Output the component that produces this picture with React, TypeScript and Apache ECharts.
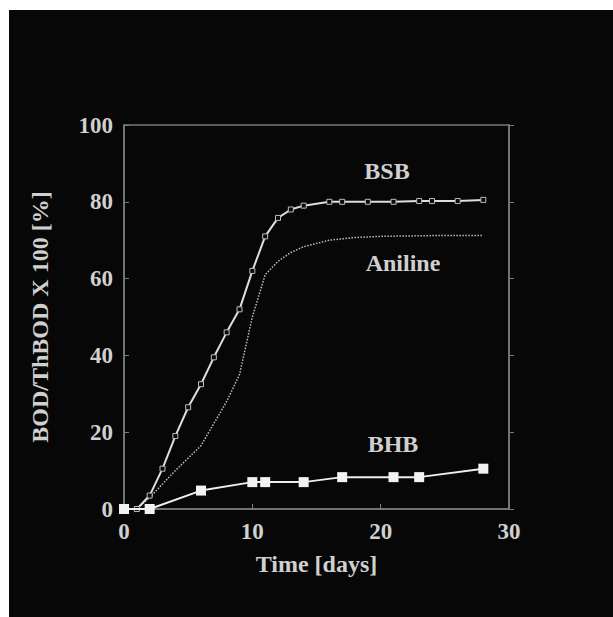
import React, { useEffect, useRef } from "react";
import * as echarts from "echarts";

const bsbDays = [0, 1, 2, 3, 4, 5, 6, 7, 8, 9, 10, 11, 12, 13, 14, 16, 17, 19, 21, 23, 24, 26, 28];
const bsbValues = [0, 0, 3.5, 10.5, 19, 26.5, 32.5, 39.5, 46, 52, 62, 71, 75.8, 78, 79, 80, 80, 80, 80, 80.2, 80.2, 80.2, 80.5];

const anilineDays = [0, 1, 2, 4, 6, 8, 9, 10, 11, 12, 13, 14, 16, 18, 20, 24, 28];
const anilineValues = [0, 0, 3, 10, 16.5, 28, 35, 50, 61, 64.5, 66.8, 68.3, 70, 70.7, 71, 71.2, 71.2];

const bhbDays = [0, 2, 6, 10, 11, 14, 17, 21, 23, 28];
const bhbValues = [0, 0, 4.8, 7, 7, 7, 8.3, 8.3, 8.3, 10.5];

const xTicks = { min: 0, max: 30, interval: 10 };
const yTicks = { min: 0, max: 100, interval: 20 };

const seriesLabels = ["BSB", "Aniline", "BHB"];

const FONT = "'Liberation Serif', 'DejaVu Serif', serif";
const TXT = "#d0d0d0";

export default function App() {
  const ref = useRef<HTMLDivElement>(null);
  useEffect(() => {
    if (!ref.current) return;
    const chart = echarts.init(ref.current, null, { renderer: "svg" });
    const pair = (xs: number[], ys: number[]) => xs.map((x, i) => [x, ys[i]]);
    const textStyle = { fontFamily: FONT, fontSize: 23, fontWeight: "bold" as const, color: TXT };
    const labelStyle = (text: string) => ({
      text,
      font: `bold 24px ${FONT}`,
      fill: TXT,
      align: "center",
      verticalAlign: "middle",
    });
    chart.setOption({
      animation: false,
      backgroundColor: "transparent",
      grid: {
        left: 124,
        top: 125,
        width: 385,
        height: 384,
        show: true,
        borderColor: "#7a7a7a",
        borderWidth: 1.5,
        backgroundColor: "transparent",
      },
      graphic: [
        {
          type: "rect",
          z: -10,
          silent: true,
          shape: { x: 9, y: 10, width: 604, height: 607 },
          style: { fill: "#070707" },
        },
        { type: "text", x: 387, y: 171, style: labelStyle(seriesLabels[0]) },
        { type: "text", x: 403, y: 263, style: labelStyle(seriesLabels[1]) },
        { type: "text", x: 393, y: 444, style: labelStyle(seriesLabels[2]) },
      ],
      xAxis: [
        {
          type: "value",
          min: xTicks.min,
          max: xTicks.max,
          interval: xTicks.interval,
          position: "bottom",
          name: "Time [days]",
          nameLocation: "middle",
          nameGap: 43,
          nameTextStyle: { ...textStyle, fontSize: 24 },
          axisLine: { show: true, lineStyle: { color: "#7a7a7a", width: 1.5 } },
          axisTick: { show: true, inside: true, length: 5, lineStyle: { color: "#7a7a7a" } },
          axisLabel: { ...textStyle, margin: 11 },
          splitLine: { show: false },
        },
      ],
      yAxis: [
        {
          type: "value",
          min: yTicks.min,
          max: yTicks.max,
          interval: yTicks.interval,
          position: "left",
          name: "BOD/ThBOD X 100 [%]",
          nameLocation: "middle",
          nameRotate: 90,
          nameGap: 72,
          nameTextStyle: { ...textStyle, fontSize: 24 },
          axisLine: { show: true, lineStyle: { color: "#7a7a7a", width: 1.5 } },
          axisTick: { show: true, inside: true, length: 5, lineStyle: { color: "#7a7a7a" } },
          axisLabel: { ...textStyle, margin: 11 },
          splitLine: { show: false },
        },
        {
          type: "value",
          min: yTicks.min,
          max: yTicks.max,
          interval: yTicks.interval,
          position: "right",
          axisLine: { show: true, lineStyle: { color: "#7a7a7a", width: 1.5 } },
          axisTick: { show: true, inside: false, length: 5, lineStyle: { color: "#7a7a7a" } },
          axisLabel: { show: false },
          splitLine: { show: false },
        },
      ],
      series: [
        {
          name: "Aniline",
          type: "line",
          data: pair(anilineDays, anilineValues),
          smooth: false,
          symbol: "none",
          lineStyle: { color: "#bdbdbd", width: 1.5, type: "dotted" },
          z: 2,
        },
        {
          name: "BSB",
          type: "line",
          data: pair(bsbDays, bsbValues),
          symbol: "rect",
          symbolSize: 5,
          itemStyle: { color: "#0a0a0a", borderColor: "#bdbdbd", borderWidth: 1 },
          lineStyle: { color: "#dedede", width: 2 },
          z: 3,
        },
        {
          name: "BHB",
          type: "line",
          data: pair(bhbDays, bhbValues),
          symbol: "rect",
          symbolSize: 10,
          itemStyle: { color: "#f2f2f2" },
          lineStyle: { color: "#eeeeee", width: 2 },
          z: 4,
        },
      ],
    });
    return () => chart.dispose();
  }, []);
  return (
    <div
      ref={ref}
      style={{ position: "fixed", left: 0, top: 0, width: 613, height: 617, background: "#ffffff" }}
    />
  );
}
